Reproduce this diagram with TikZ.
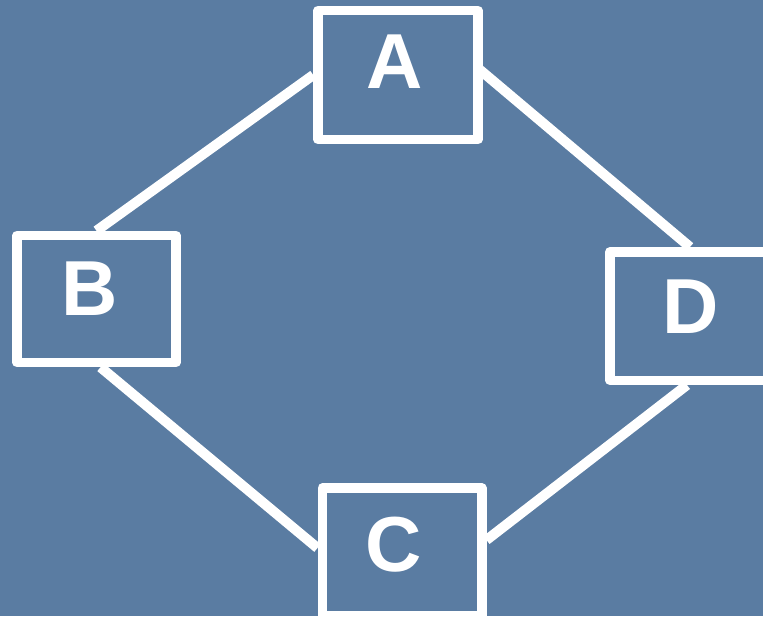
\documentclass[tikz,border=0pt]{standalone}
\usepackage{fontspec}
\setmainfont{Liberation Sans}
\definecolor{bgblue}{RGB}{90,124,162}
\begin{document}
\begin{tikzpicture}[x=1pt,y=-1pt,
  box/.style={draw=white,line width=9.5pt,line join=round,rectangle,inner sep=0pt},
  lbl/.style={text=white,font=\fontsize{78}{80}\selectfont\bfseries,anchor=base,inner sep=0pt},
  conn/.style={draw=white,line width=10pt}]
\fill[bgblue] (0,0) rectangle (763,616);
\useasboundingbox (0,0) rectangle (763,616);
\node[box,minimum width=160pt,minimum height=129pt] (A) at (398,75) {};
\node[box,minimum width=159pt,minimum height=127pt] (B) at (96.5,299) {};
\node[box,minimum width=170pt,minimum height=128.5pt] (D) at (695,316) {};
\node[box,minimum width=159.5pt,minimum height=128pt] (C) at (402,552) {};
\node[lbl] (lA) at (395,88) {A};
\node[lbl] (lB) at (90,315) {B};
\node[lbl] (lD) at (691,333) {D};
\node[lbl] (lC) at (394,571) {C};
\draw[conn] (A.west) -- (B.north);
\draw[conn] ([xshift=-5pt,yshift=7pt]A.east) -- ([xshift=-5pt]D.north);
\draw[conn] ([xshift=4pt]B.south) -- ([yshift=4pt]C.west);
\draw[conn] ([yshift=12pt]C.east) -- ([xshift=-8pt]D.south);
\end{tikzpicture}
\end{document}
